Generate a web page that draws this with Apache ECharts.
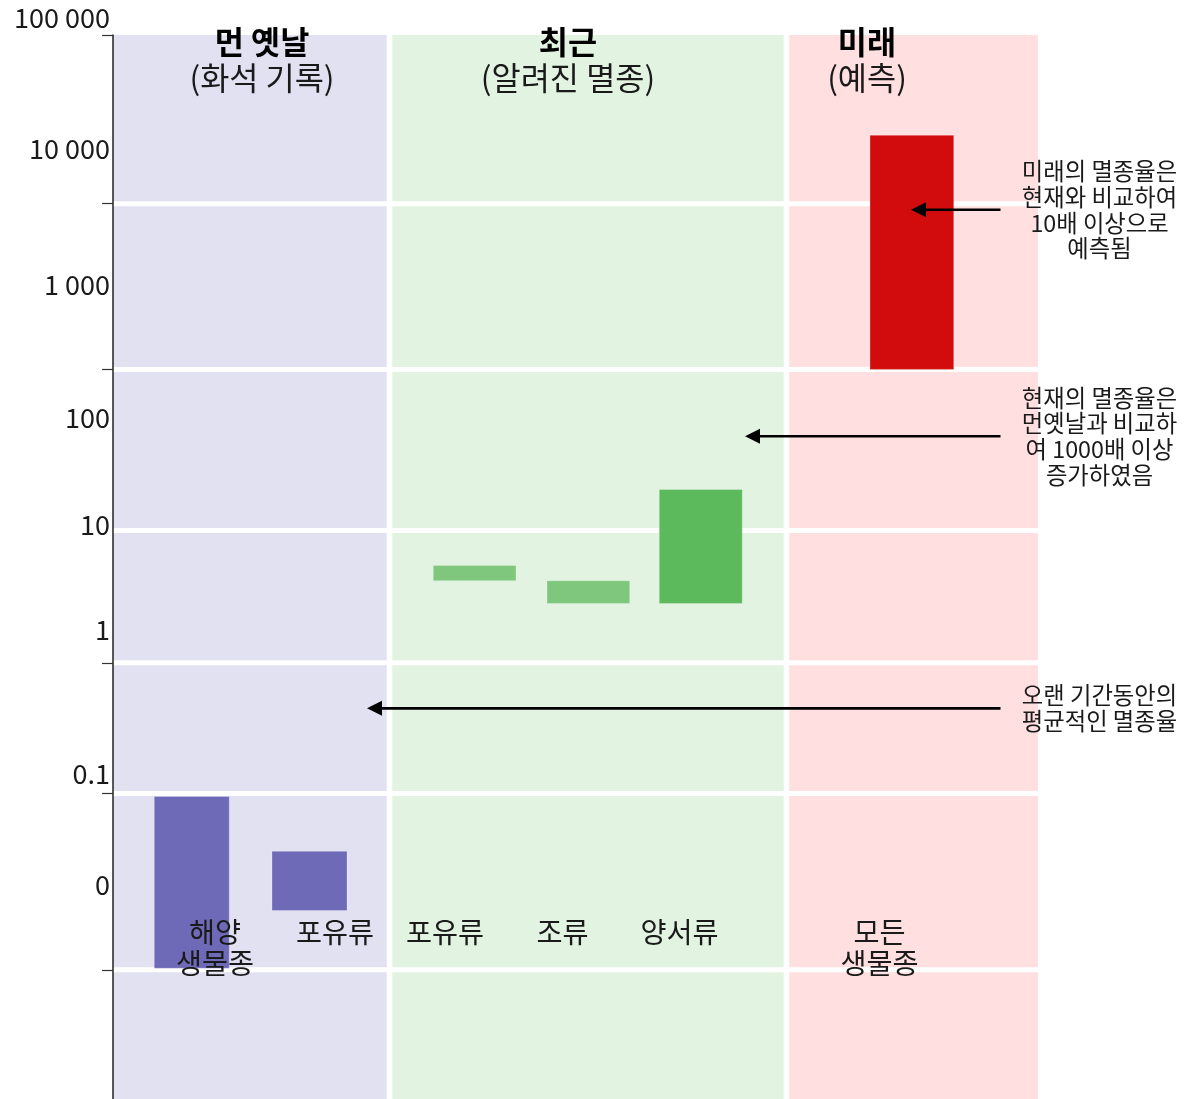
<!DOCTYPE html>
<html>
<head>
<meta charset="utf-8">
<script src="https://cdn.jsdelivr.net/npm/echarts@6/dist/echarts.min.js"></script>
<style>
html,body{margin:0;padding:0;background:#fff;}
#chart{width:1188px;height:1099px;}
</style>
</head>
<body>
<div id="chart"></div>
<script>
// ---- data (axis units: x 0..43, y 0..70) ----
const yLabelText = ['10 000', '1 000', '100', '10', '1', '0.1', '0'];
const yLabelPos = [62.5, 53.6, 44.8, 37.8, 30.9, 21.4, 14.1];
const yTickPos = [70, 58.9, 48.0, 28.7, 20.1, 8.5];
const gridLineY = [58.9, 48.0, 37.4, 28.7, 20.1, 8.5];
const periodBoundX = [11.06, 26.94];

const periods = ['먼 옛날', '최근', '미래'];
const periodNotes = ['(화석 기록)', '(알려진 멸종)', '(예측)'];
const bandStart = [0, 11.06, 26.94];
const bandEnd = [11.06, 26.94, 37];

const categories = ['해양\n생물종', '포유류', '포유류', '조류', '양서류', '모든\n생물종'];
const barStart = [1.65, 6.36, 12.81, 17.36, 21.85, 30.28];
const barEnd = [4.65, 9.36, 16.12, 20.67, 25.17, 33.63];
const barLow = [8.6, 12.4, 34.1, 32.6, 32.6, 48.0];
const barHigh = [19.9, 16.3, 35.1, 34.1, 40.1, 63.4];

const notes = [
  '미래의 멸종율은\n현재와 비교하여\n10배 이상으로\n예측됨',
  '현재의 멸종율은\n먼옛날과 비교하\n여 1000배 이상\n증가하였음',
  '오랜 기간동안의\n평균적인 멸종율'
];
const noteY = [58.5, 43.6, 25.7];
const arrowTipX = [31.92, 25.28, 10.16];

// ---- layout / style ----
const FONT = '"Noto Sans CJK KR", "Noto Sans CJK SC", sans-serif';
const TEXT = '#1a1a1a';
const bandColors = ['#e2e1f2', '#e2f3e1', '#ffdfe0'];
const barColors = ['#6f6ab7', '#6f6ab7', '#80c77e', '#80c77e', '#5cba5c', '#d20c0c'];
const periodX = [5.96, 18.2, 30.16];
const TITLE_Y = 68.36;
const catLabelX = [4.08, 8.88, 13.28, 17.98, 22.66, 30.66];
const CAT_TOP_Y = 12.0;
const ARROW_START_X = 35.5;
const NOTE_X = 39.46;

const chart = echarts.init(document.getElementById('chart'), null, {renderer: 'canvas'});

const option = {
  animation: false,
  backgroundColor: '#fff',
  grid: {left: 113, right: 0, top: 35, bottom: 0, containLabel: false, outerBoundsMode: 'none'},
  xAxis: {type: 'value', min: 0, max: 43, show: false},
  yAxis: {
    type: 'value', min: 0, max: 70, z: 10,
    name: '100 000', nameLocation: 'end', nameGap: 17,
    nameTextStyle: {fontFamily: FONT, fontSize: 27, color: TEXT, align: 'right', verticalAlign: 'middle', padding: [0, 3, 0, 0]},
    axisLine: {show: true, lineStyle: {color: '#222', width: 1.5}},
    axisTick: {show: true, length: 11, customValues: yTickPos, lineStyle: {color: '#333', width: 1.2}},
    axisLabel: {
      show: true, margin: 3, customValues: yLabelPos,
      fontFamily: FONT, fontSize: 27, color: TEXT,
      formatter: function (v) {
        for (let i = 0; i < yLabelPos.length; i++) {
          if (Math.abs(yLabelPos[i] - v) < 1e-6) return yLabelText[i];
        }
        return '';
      }
    },
    splitLine: {show: false}
  },
  series: [
    {
      type: 'custom', name: 'bands', z: 1, silent: true,
      data: bandStart.map((s, i) => [s, bandEnd[i]]),
      renderItem: function (params, api) {
        const p0 = api.coord([api.value(0), 70]);
        const p1 = api.coord([api.value(1), 0]);
        return {type: 'rect', shape: {x: p0[0], y: p0[1], width: p1[0] - p0[0], height: p1[1] - p0[1]},
          style: {fill: bandColors[params.dataIndex]}};
      }
    },
    {
      type: 'custom', name: 'gridlines', z: 2, silent: true,
      data: gridLineY.map(y => [0, y]).concat(periodBoundX.map(x => [1, x])),
      renderItem: function (params, api) {
        const kind = api.value(0), pos = api.value(1);
        let a, b;
        if (kind === 0) { a = api.coord([0, pos]); b = api.coord([37, pos]); }
        else { a = api.coord([pos, 0]); b = api.coord([pos, 70]); }
        return {type: 'line', shape: {x1: a[0], y1: a[1], x2: b[0], y2: b[1]},
          style: {stroke: '#ffffff', lineWidth: kind === 0 ? 5 : 5.5}};
      }
    },
    {
      type: 'custom', name: 'bars', z: 3, silent: true,
      encode: {x: [0, 1], y: [2, 3]},
      data: barLow.map((lo, i) => [barStart[i], barEnd[i], lo, barHigh[i]]),
      renderItem: function (params, api) {
        const p0 = api.coord([api.value(0), api.value(3)]);
        const p1 = api.coord([api.value(1), api.value(2)]);
        return {type: 'rect', shape: {x: p0[0], y: p0[1], width: p1[0] - p0[0], height: p1[1] - p0[1]},
          style: {fill: barColors[params.dataIndex], stroke: 'rgba(255,255,255,0.25)', lineWidth: 1}};
      }
    },
    {
      type: 'custom', name: 'arrows', z: 4, silent: true,
      data: noteY.map((y, i) => [arrowTipX[i], y]),
      renderItem: function (params, api) {
        const tip = api.coord([api.value(0), api.value(1)]);
        const start = api.coord([ARROW_START_X, api.value(1)]);
        const head = 15, half = 7.5;
        return {type: 'group', children: [
          {type: 'line', shape: {x1: start[0], y1: start[1], x2: tip[0] + head - 2, y2: tip[1]},
            style: {stroke: '#000', lineWidth: 2.6}},
          {type: 'polygon', shape: {points: [[tip[0], tip[1]], [tip[0] + head, tip[1] - half], [tip[0] + head, tip[1] + half]]},
            style: {fill: '#000'}}
        ]};
      }
    },
    {
      type: 'custom', name: 'notes', z: 5, silent: true,
      data: noteY.map(y => [NOTE_X, y]),
      renderItem: function (params, api) {
        const p = api.coord([api.value(0), api.value(1)]);
        return {type: 'text', x: p[0], y: p[1],
          style: {text: notes[params.dataIndex], fill: TEXT, fontFamily: FONT, fontSize: 23.3,
            lineHeight: 25.7, align: 'center', verticalAlign: 'middle'}};
      }
    },
    {
      type: 'custom', name: 'periods', z: 5, silent: true,
      data: periodX.map(x => [x, TITLE_Y]),
      renderItem: function (params, api) {
        const p = api.coord([api.value(0), api.value(1)]);
        const i = params.dataIndex;
        return {type: 'text', x: p[0], y: p[1],
          style: {text: '{b|' + periods[i] + '}\n{n|' + periodNotes[i] + '}', align: 'center', verticalAlign: 'middle',
            rich: {
              b: {fontFamily: FONT, fontSize: 31.7, fontWeight: 'bold', fill: '#000', lineHeight: 36, align: 'center'},
              n: {fontFamily: FONT, fontSize: 31.7, fill: TEXT, lineHeight: 36, align: 'center'}
            }}};
      }
    },
    {
      type: 'custom', name: 'categories', z: 5, silent: true,
      data: catLabelX.map(x => [x, CAT_TOP_Y]),
      renderItem: function (params, api) {
        const p = api.coord([api.value(0), api.value(1)]);
        return {type: 'text', x: p[0], y: p[1],
          style: {text: categories[params.dataIndex], fill: TEXT, fontFamily: FONT, fontSize: 28.3,
            lineHeight: 31, align: 'center', verticalAlign: 'top'}};
      }
    }
  ]
};
chart.setOption(option);
</script>
</body>
</html>
